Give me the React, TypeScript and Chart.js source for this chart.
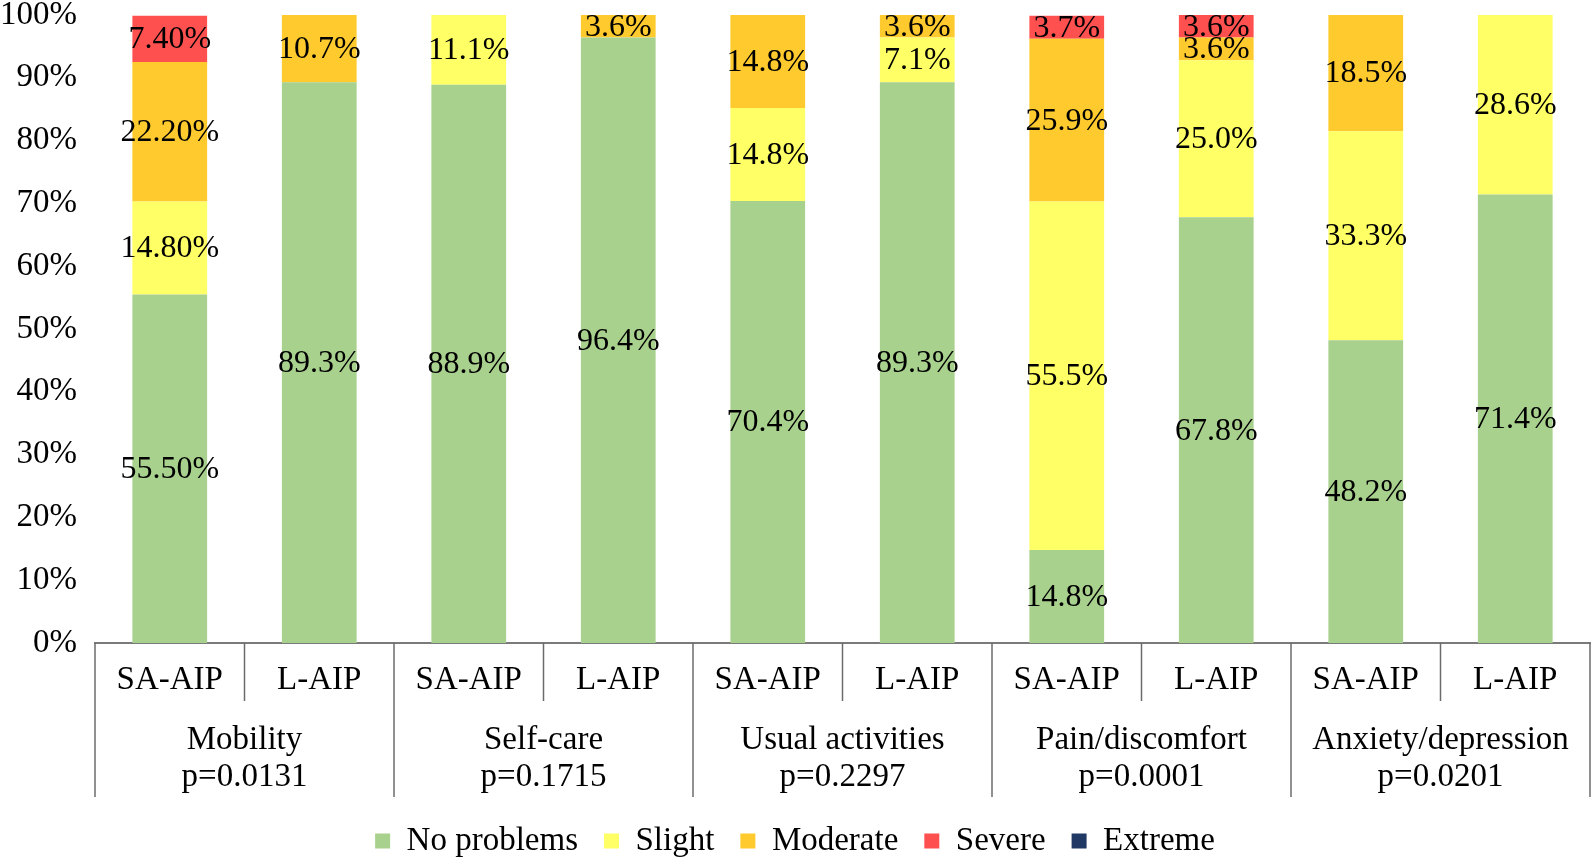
import React, { useEffect, useRef } from 'react';
import { Chart, registerables } from 'chart.js';

Chart.register(...registerables);

const barLabels = ['SA-AIP', 'L-AIP', 'SA-AIP', 'L-AIP', 'SA-AIP', 'L-AIP', 'SA-AIP', 'L-AIP', 'SA-AIP', 'L-AIP'];
const groupNames = ['Mobility', 'Self-care', 'Usual activities', 'Pain/discomfort', 'Anxiety/depression'];
const pValues = ['p=0.0131', 'p=0.1715', 'p=0.2297', 'p=0.0001', 'p=0.0201'];
const seriesNames = ['No problems', 'Slight', 'Moderate', 'Severe', 'Extreme'];

const noProblems = [55.5, 89.3, 88.9, 96.4, 70.4, 89.3, 14.8, 67.8, 48.2, 71.4];
const slight = [14.8, 0, 11.1, 0, 14.8, 7.1, 55.5, 25.0, 33.3, 28.6];
const moderate = [22.2, 10.7, 0, 3.6, 14.8, 3.6, 25.9, 3.6, 18.5, 0];
const severe = [7.4, 0, 0, 0, 0, 0, 3.7, 3.6, 0, 0];
const extreme = [0, 0, 0, 0, 0, 0, 0, 0, 0, 0];
const labelDecimals = [2, 1, 1, 1, 1, 1, 1, 1, 1, 1];

const seriesColors = ['#A9D18E', '#FFFF66', '#FFCA2E', '#FF5050', '#203864'];

const FONT = '"Liberation Serif", "Times New Roman", serif';

const segLabelPlugin = {
  id: 'segLabels',
  afterDatasetsDraw(chart: any) {
    const ctx = chart.ctx;
    ctx.save();
    ctx.font = `32px ${FONT}`;
    ctx.fillStyle = '#000';
    ctx.textAlign = 'center';
    ctx.textBaseline = 'middle';
    chart.data.datasets.forEach((ds: any, di: number) => {
      const meta = chart.getDatasetMeta(di);
      meta.data.forEach((el: any, i: number) => {
        const v = ds.data[i];
        if (!v) return;
        const p = el.getProps(['x', 'y', 'base'], true);
        ctx.fillText(v.toFixed(labelDecimals[i]) + '%', p.x, (p.y + p.base) / 2 + 1);
      });
    });
    ctx.restore();
  },
};

const multiAxisPlugin = {
  id: 'multiAxis',
  afterDraw(chart: any) {
    const ctx = chart.ctx;
    const xs = chart.scales.x;
    const bottom = chart.chartArea.bottom;
    const n = barLabels.length;
    const slot = (xs.getPixelForValue(1) - xs.getPixelForValue(0));
    ctx.save();
    ctx.strokeStyle = '#6b6b6b';
    ctx.lineWidth = 1.5;
    ctx.fillStyle = '#000';
    ctx.textAlign = 'center';
    ctx.textBaseline = 'middle';
    ctx.font = `33px ${FONT}`;
    for (let i = 0; i < n; i++) {
      const x = xs.getPixelForValue(i);
      ctx.fillText(barLabels[i], x, bottom + 37);
    }
    for (let g = 0; g < groupNames.length; g++) {
      const x0 = xs.getPixelForValue(2 * g) - slot / 2;
      const x1 = xs.getPixelForValue(2 * g + 1) + slot / 2;
      const xm = (x0 + x1) / 2;
      ctx.beginPath();
      ctx.moveTo(xm, bottom);
      ctx.lineTo(xm, bottom + 58);
      ctx.stroke();
      ctx.beginPath();
      ctx.moveTo(x0, bottom);
      ctx.lineTo(x0, bottom + 154);
      ctx.stroke();
      if (g === groupNames.length - 1) {
        ctx.beginPath();
        ctx.moveTo(x1, bottom);
        ctx.lineTo(x1, bottom + 154);
        ctx.stroke();
      }
      ctx.fillText(groupNames[g], xm, bottom + 97);
      ctx.fillText(pValues[g], xm, bottom + 134);
    }
    ctx.restore();
  },
};

export default function App() {
  const ref = useRef<HTMLCanvasElement | null>(null);
  useEffect(() => {
    if (!ref.current) return;
    const seriesData = [noProblems, slight, moderate, severe, extreme];
    const chart = new Chart(ref.current, {
      type: 'bar',
      data: {
        labels: barLabels,
        datasets: seriesNames.map((name, i) => ({
          label: name,
          data: seriesData[i],
          backgroundColor: seriesColors[i],
          borderWidth: 0,
          barPercentage: 0.5,
          categoryPercentage: 1,
        })),
      },
      options: {
        responsive: false,
        animation: false,
        devicePixelRatio: 1,
        layout: { padding: { top: 15, right: 4, left: 0, bottom: -9.5 } },
        plugins: {
          legend: {
            position: 'bottom',
            labels: {
              boxWidth: 15,
              boxHeight: 15,
              padding: 26,
              color: '#000',
              font: { family: FONT, size: 33 },
            },
          },
          tooltip: { enabled: false },
        },
        scales: {
          x: {
            stacked: true,
            grid: { display: false, drawTicks: false },
            ticks: { display: false },
            border: { display: true, color: '#7a7a7a', width: 2 },
            afterFit: (s: any) => {
              s.height = 155.5;
              s.paddingLeft = 0;
              s.paddingRight = 0;
            },
          },
          y: {
            stacked: true,
            min: 0,
            max: 100,
            grid: { display: false, drawTicks: false },
            border: { display: false },
            ticks: {
              stepSize: 10,
              padding: 18,
              color: '#000',
              font: { family: FONT, size: 33 },
              callback: (v: any) => v + '%',
            },
            afterFit: (s: any) => {
              s.width = 95;
              s.paddingTop = 0;
              s.paddingBottom = 0;
            },
          },
        },
      },
      plugins: [segLabelPlugin, multiAxisPlugin],
    });
    return () => chart.destroy();
  }, []);
  return (
    <div style={{ position: 'absolute', left: 0, top: 0, width: 1594, height: 858, background: '#fff' }}>
      <canvas ref={ref} width={1594} height={858} style={{ display: 'block' }} />
    </div>
  );
}
